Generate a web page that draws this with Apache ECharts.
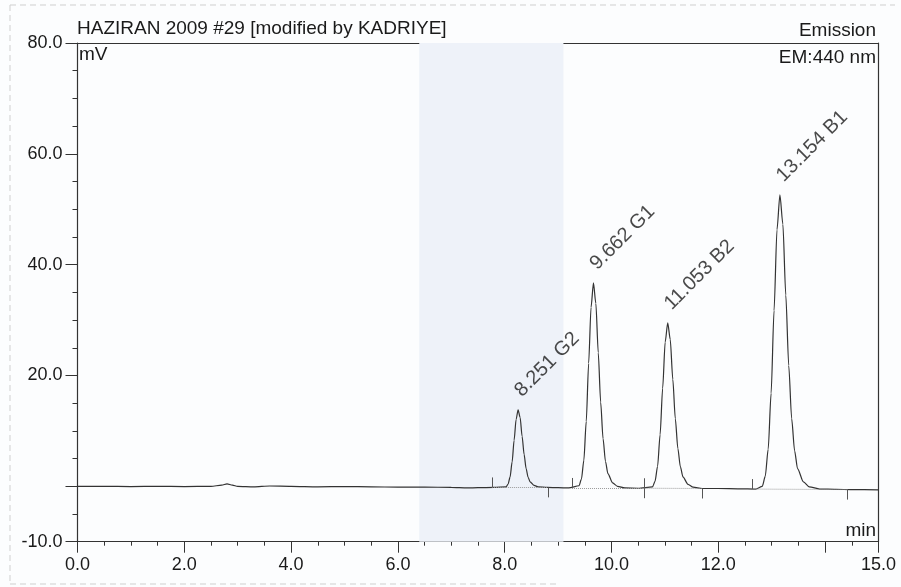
<!DOCTYPE html>
<html><head><meta charset="utf-8">
<style>html,body{margin:0;padding:0;background:#fcfdfe}#chart{width:901px;height:587px}</style>
<script src="https://cdn.jsdelivr.net/npm/echarts@6/dist/echarts.min.js"></script>
</head><body><div id="chart"></div>
<script>
// ---- data ----
const timeMin = [
  0, 0.5, 1.0, 1.5, 2.0, 2.5, 2.7, 2.8, 2.9, 3.0, 3.3, 3.6, 4.0, 4.5, 5.0, 5.5, 6.0, 6.5, 7.0, 7.3, 7.5, 7.8,
  8.026, 8.064, 8.101, 8.139, 8.176, 8.214, 8.251, 8.289, 8.326, 8.364, 8.401, 8.439, 8.476, 8.551, 8.626,
  8.8, 9.0, 9.2,
  9.392, 9.437, 9.482, 9.527, 9.572, 9.617, 9.662, 9.707, 9.752, 9.797, 9.842, 9.887, 9.932, 10.022, 10.112, 10.25, 10.5,
  10.768, 10.815, 10.863, 10.910, 10.958, 11.005, 11.053, 11.100, 11.148, 11.195, 11.243, 11.290, 11.338, 11.433, 11.528, 11.70, 12.0, 12.4, 12.7,
  12.824, 12.879, 12.934, 12.989, 13.044, 13.099, 13.154, 13.209, 13.264, 13.319, 13.374, 13.429, 13.484, 13.594, 13.704, 13.9, 14.2, 14.5, 15.0
];
const signalMv = [
  0.0, 0.0, -0.05, 0.0, -0.05, 0.0, 0.2, 0.45, 0.2, 0.0, -0.1, 0.05, 0.0, -0.1, -0.05, -0.1, -0.15, -0.15, -0.2, -0.3, -0.25, -0.2,
  -0.1, 0.4, 1.7, 4.4, 8.3, 12.1, 13.8, 12.4, 9.0, 5.7, 3.2, 1.6, 0.8, 0.15, -0.1,
  -0.2, -0.25, -0.3,
  0.1, 1.3, 4.7, 11.7, 22.2, 32.3, 36.7, 33.0, 24.1, 15.2, 8.6, 4.5, 2.3, 0.6, 0.0, -0.3, -0.35,
  -0.1, 0.9, 3.6, 9.3, 17.7, 26.0, 29.5, 26.5, 19.3, 12.2, 6.8, 3.5, 1.7, 0.35, -0.15, -0.4, -0.4, -0.45, -0.5,
  0.0, 1.8, 6.7, 16.8, 31.7, 46.3, 52.6, 47.3, 34.5, 21.8, 12.2, 6.4, 3.2, 0.8, -0.1, -0.5, -0.55, -0.6, -0.65
];
const peakTimes = [8.251, 9.662, 11.053, 13.154];
const peakHeights = [13.8, 36.7, 29.5, 52.6];
const peakNames = ['G2', 'G1', 'B2', 'B1'];

const xMajorTicks = [0, 2, 4, 6, 8, 10, 12, 14, 15];
const xTickLabels = [0, 2, 4, 6, 8, 10, 12, 15];
const xMinorTicks = [0.5, 1, 1.5, 2.5, 3, 3.5, 4.5, 5, 5.5, 6.5, 7, 7.5, 8.5, 9, 9.5, 10.5, 11, 11.5, 12.5, 13, 13.5, 14.5];
const yMajorTicks = [-10, 0, 20, 40, 60, 80];
const yTickLabels = [-10, 20, 40, 60, 80];
const yMinorTicks = [-5, 5, 10, 15, 25, 30, 35, 45, 50, 55, 65, 70, 75];

const intStartTimes = [7.76, 9.26, 10.62, 12.64];
const intStartLevels = [-0.2, -0.3, -0.35, -0.5];
const intEndTimes = [8.81, 10.62, 11.70, 14.42];
const intEndLevels = [-0.2, -0.35, -0.4, -0.6];
const markerSize = 1.8;
const bandRange = [6.4, 9.1];

// ---- build ----
const FONT = "'Liberation Sans', Arial, sans-serif";
const TXT = '#1a1a1a';
const AX = '#333';
const signal = timeMin.map((t, i) => [t, signalMv[i]]);
const peaks = peakTimes.map((t, i) => ({ value: [t, peakHeights[i]], name: t.toFixed(3) + ' ' + peakNames[i] }));

const markLines = [];
intStartTimes.forEach((t, i) => {
  markLines.push([{ coord: [t, intStartLevels[i]], lineStyle: { type: 'dotted', color: '#9a9a9a', width: 1 } },
                  { coord: [intEndTimes[i], intEndLevels[i]] }]);
  markLines.push([{ coord: [t, intStartLevels[i]] }, { coord: [t, intStartLevels[i] + markerSize] }]);
});
intEndTimes.forEach((t, i) => {
  markLines.push([{ coord: [t, intEndLevels[i]] }, { coord: [t, intEndLevels[i] - markerSize] }]);
});

const fmt1 = v => Number(v).toFixed(1);
const ttl = { fontSize: 19, fontWeight: 'normal', fontFamily: FONT, color: TXT };
const chart = echarts.init(document.getElementById('chart'), null, { renderer: 'canvas' });
chart.setOption({
  animation: false,
  backgroundColor: '#fcfdfe',
  grid: { left: 77.5, right: 22.5, top: 43, bottom: 45.3, containLabel: false },
  title: [
    { text: 'HAZIRAN 2009 #29 [modified by KADRIYE]', left: 77, top: 19, padding: 0, textStyle: ttl },
    { text: 'mV', left: 79, top: 45, padding: 0, textStyle: ttl },
    { text: 'Emission', right: 25, top: 21, padding: 0, textStyle: ttl },
    { text: 'EM:440 nm', right: 25, top: 48, padding: 0, textStyle: ttl },
    { text: 'min', right: 25, top: 521, padding: 0, textStyle: ttl }
  ],
  xAxis: [
    { type: 'value', min: 0, max: 15, position: 'bottom',
      axisLine: { show: true, onZero: false, lineStyle: { color: AX, width: 1.2 } },
      axisTick: { show: true, length: 11, customValues: xMajorTicks, lineStyle: { color: AX } },
      axisLabel: { show: true, customValues: xTickLabels, formatter: fmt1, margin: 14,
                   fontSize: 18, fontFamily: FONT, color: TXT },
      splitLine: { show: false } },
    { type: 'value', min: 0, max: 15, position: 'bottom',
      axisLine: { show: false, onZero: false },
      axisTick: { show: true, length: 4, customValues: xMinorTicks, lineStyle: { color: AX } },
      axisLabel: { show: false }, splitLine: { show: false } },
    { type: 'value', min: 0, max: 15, position: 'top',
      axisLine: { show: true, onZero: false, lineStyle: { color: AX, width: 1.2 } },
      axisTick: { show: false }, axisLabel: { show: false }, splitLine: { show: false } }
  ],
  yAxis: [
    { type: 'value', min: -10, max: 80, position: 'left',
      axisLine: { show: true, onZero: false, lineStyle: { color: AX, width: 1.2 } },
      axisTick: { show: true, length: 12, customValues: yMajorTicks, lineStyle: { color: AX } },
      axisLabel: { show: true, customValues: yTickLabels, formatter: fmt1, margin: 15,
                   fontSize: 18, fontFamily: FONT, color: TXT },
      splitLine: { show: false } },
    { type: 'value', min: -10, max: 80, position: 'left',
      axisLine: { show: false, onZero: false },
      axisTick: { show: true, length: 5, customValues: yMinorTicks, lineStyle: { color: AX } },
      axisLabel: { show: false }, splitLine: { show: false } },
    { type: 'value', min: -10, max: 80, position: 'right',
      axisLine: { show: true, onZero: false, lineStyle: { color: AX, width: 1.2 } },
      axisTick: { show: false }, axisLabel: { show: false }, splitLine: { show: false } }
  ],
  series: [
    { type: 'line', name: 'signal', xAxisIndex: 0, yAxisIndex: 0, data: signal,
      showSymbol: false, smooth: 0.25, smoothMonotone: 'x',
      lineStyle: { color: '#333', width: 1.2 },
      markArea: { silent: true, itemStyle: { color: '#eef2f9' },
        data: [[{ xAxis: bandRange[0], yAxis: -10 }, { xAxis: bandRange[1], yAxis: 80 }]] },
      markLine: { silent: true, symbol: ['none', 'none'], label: { show: false },
        lineStyle: { type: 'solid', color: '#555', width: 1 }, data: markLines },
      z: 3 },
    { type: 'scatter', name: 'peaks', xAxisIndex: 0, yAxisIndex: 0, data: peaks,
      symbolSize: 1, itemStyle: { color: 'rgba(0,0,0,0)' },
      label: { show: true, position: 'inside', rotate: 45, align: 'left', verticalAlign: 'bottom',
               offset: [11.5, -1.5], formatter: p => p.name, fontSize: 20, fontFamily: FONT, color: TXT },
      z: 4 }
  ],
  graphic: [
    { type: 'line', shape: { x1: 10, y1: 5, x2: 895, y2: 5 }, style: { stroke: '#cfcfcf', lineDash: [6, 4], lineWidth: 1 }, silent: true },
    { type: 'line', shape: { x1: 10, y1: 5, x2: 10, y2: 584 }, style: { stroke: '#cfcfcf', lineDash: [6, 4], lineWidth: 1 }, silent: true },
    { type: 'line', shape: { x1: 10, y1: 584, x2: 560, y2: 584 }, style: { stroke: '#cfcfcf', lineDash: [6, 4], lineWidth: 1 }, silent: true }
  ]
});
</script></body></html>
